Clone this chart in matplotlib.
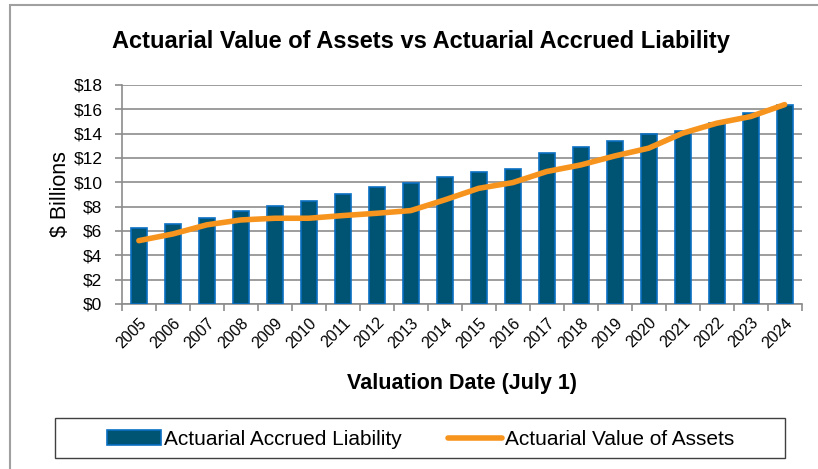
import numpy as np
import matplotlib.pyplot as plt
from matplotlib.patches import Rectangle

plt.rcParams['font.family'] = ['Liberation Sans', 'DejaVu Sans']

years = [str(y) for y in range(2005, 2025)]
# $ billions
liability = [6.22, 6.55, 7.04, 7.67, 8.03, 8.49, 9.01, 9.64, 9.97, 10.47,
             10.80, 11.12, 12.44, 12.93, 13.42, 13.95, 14.25, 14.90, 15.73, 16.38]
assets = [5.20, 5.75, 6.50, 6.90, 7.04, 7.04, 7.26, 7.45, 7.67, 8.55,
          9.50, 9.97, 10.88, 11.42, 12.16, 12.80, 14.03, 14.85, 15.40, 16.38]
yticks = [0, 2, 4, 6, 8, 10, 12, 14, 16, 18]

fig = plt.figure(figsize=(8.18, 4.69), dpi=100)
ax = fig.add_axes([0.149, 0.352, 0.831, 0.467])

x = np.arange(len(years))
bars = ax.bar(x, liability, width=0.47, color='#005473', edgecolor='#0a6fc2',
              linewidth=1.2, label='Actuarial Accrued Liability', zorder=3)
line, = ax.plot(x, assets, color='#f7941d', linewidth=4, solid_capstyle='round',
                label='Actuarial Value of Assets', zorder=4)

ax.set_xlim(-0.5, len(years) - 0.5)
ax.set_ylim(0, 18)
ax.set_yticks(yticks)
ax.set_yticklabels(['$%d' % v for v in yticks], fontsize=12.5)
ax.set_xticks(x)
ax.set_xticklabels(years, rotation=45, ha='right', rotation_mode='anchor', fontsize=11.5)
ax.set_xticks(np.arange(-0.5, len(years)), minor=True)
ax.tick_params(axis='x', which='major', length=0, pad=8)
ax.tick_params(axis='x', which='minor', length=5, color='#8c8c8c', width=1.2)
ax.tick_params(axis='y', length=5, color='#8c8c8c', width=1.2, pad=9)

ax.grid(axis='y', color='#8c8c8c', linewidth=1.2, zorder=0)
for s in ['top', 'right']:
    ax.spines[s].set_visible(False)
for s in ['left', 'bottom']:
    ax.spines[s].set_color('#8c8c8c')
    ax.spines[s].set_linewidth(1.2)

ax.set_ylabel('$ Billions', fontsize=15.5, labelpad=2)
ax.set_xlabel('Valuation Date (July 1)', fontsize=15.5, fontweight='bold', labelpad=16)
fig.text(0.514, 0.912, 'Actuarial Value of Assets vs Actuarial Accrued Liability',
         ha='center', va='center', fontsize=17, fontweight='bold')

leg = fig.legend([bars, line], [bars.get_label(), line.get_label()],
                 loc='center', bbox_to_anchor=(0.514, 0.063), ncol=2, fontsize=15,
                 frameon=False, handlelength=2.6, handletextpad=0.15,
                 columnspacing=2.2)

# legend box
fig.patches.append(Rectangle((55 / 818, 1 - 458 / 469), 730 / 818, 40 / 469,
                             transform=fig.transFigure, fill=False,
                             edgecolor='#404040', linewidth=1.0))
# outer chart border
fig.patches.append(Rectangle((10 / 818, -0.1), 1.0, 1 - 5 / 469 + 0.1,
                             transform=fig.transFigure, fill=False,
                             edgecolor='#a0a0a0', linewidth=1.5))

fig.savefig('out.png', dpi=100)
